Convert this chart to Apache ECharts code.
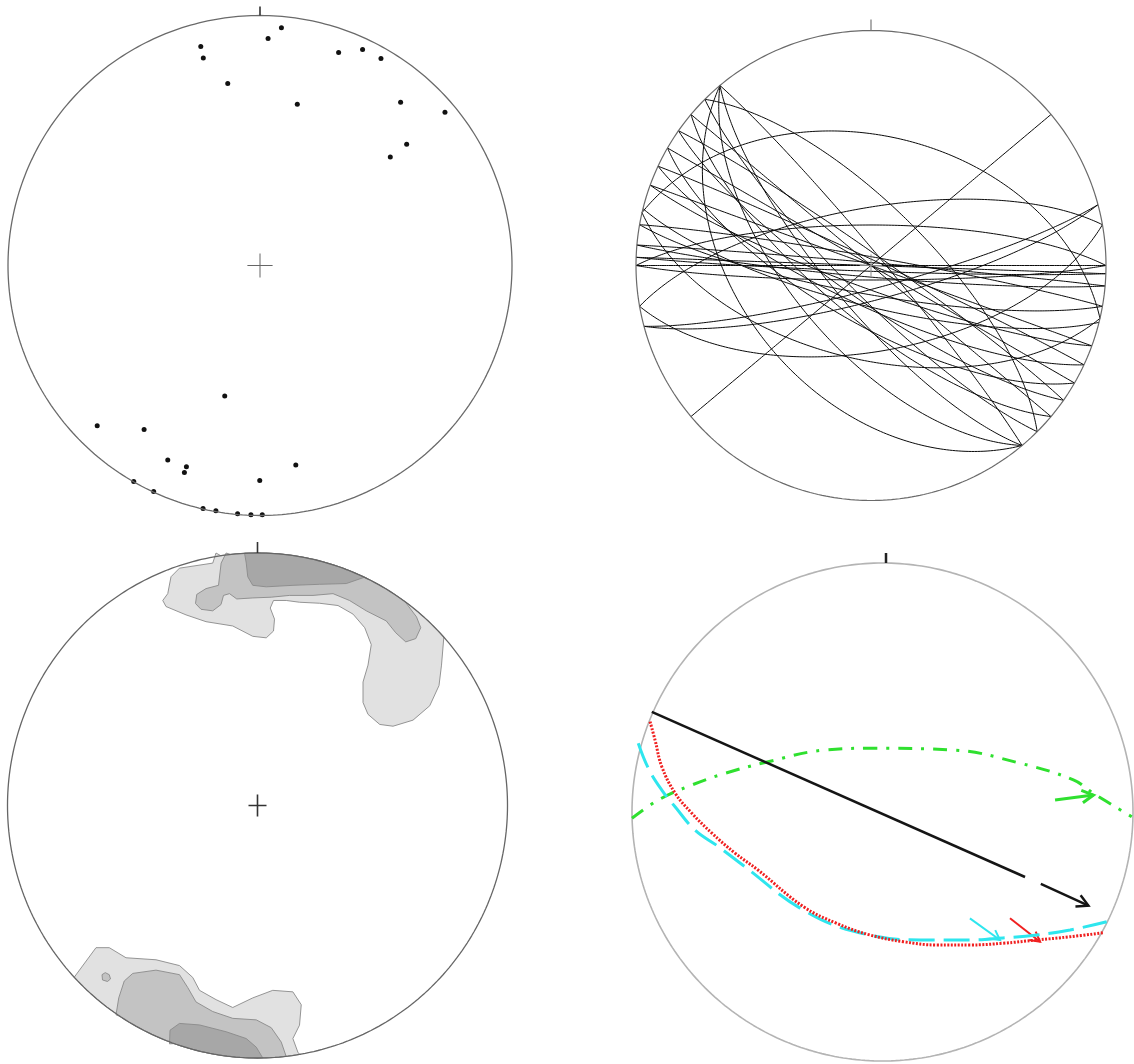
<!DOCTYPE html>
<html><head><meta charset="utf-8">
<script src="https://cdn.jsdelivr.net/npm/echarts/dist/echarts.min.js"></script>
<style>html,body{margin:0;padding:0;background:#fff}#c{width:1134px;height:1064px}</style>
</head><body><div id="c"></div>
<script>
// ---------- Panel 1: poles (normalized net coordinates) ----------
const poleX = [0.085,0.032,-0.235,-0.225,0.312,0.407,0.480,-0.128,0.148,0.558,0.734,0.582,0.517,
  -0.140,-0.646,-0.460,-0.366,-0.292,-0.300,0.142,-0.001,-0.501,-0.422,-0.226,-0.175,-0.089,-0.036,0.009];
const poleY = [0.951,0.908,0.876,0.830,0.852,0.864,0.828,0.728,0.645,0.653,0.613,0.485,0.434,
  -0.522,-0.641,-0.656,-0.778,-0.805,-0.828,-0.798,-0.860,-0.864,-0.904,-0.972,-0.981,-0.993,-0.997,-0.997];

// ---------- Panel 2: planes (strike RHR, dip) ----------
const gcStrike = [50,283,260,270,75,75,103,80,140,140,140,320,315,135,310,130,305,125,300,120,295,115,290,110,280,100,275,95,272,92,270,90,104];
const gcDip    = [90,44,70,76,78,82,57,60,44,62,75,86,70,80,90,72,86,78,90,70,88,76,90,82,87,80,89,86,90,88,90,85,76];

// ---------- Panel 3: density contours (normalized vertices; r>=1 = on primitive) ----------
const contourLight = [
  [[-0.166,1.0],[-0.179,0.960],[-0.312,0.940],[-0.346,0.906],[-0.359,0.839],[-0.379,0.812],[-0.366,0.788],
   [-0.286,0.755],[-0.206,0.728],[-0.099,0.711],[-0.019,0.670],[0.035,0.664],[0.064,0.691],[0.068,0.738],
   [0.051,0.782],[0.064,0.812],[0.115,0.812],[0.168,0.805],[0.248,0.801],[0.322,0.792],[0.382,0.758],
   [0.429,0.704],[0.455,0.637],[0.442,0.556],[0.422,0.489],[0.422,0.408],[0.442,0.361],[0.489,0.321],
   [0.542,0.314],[0.622,0.338],[0.689,0.395],[0.726,0.475],[0.736,0.556],[0.749,0.670]],
  [[0.175,-0.992],[0.1615,-0.977],[0.1415,-0.923],[0.168,-0.870],[0.175,-0.789],[0.1415,-0.738],[0.061,-0.732],
   [-0.019,-0.762],[-0.099,-0.800],[-0.1655,-0.769],[-0.232,-0.732],[-0.259,-0.681],[-0.312,-0.634],
   [-0.406,-0.611],[-0.526,-0.603],[-0.593,-0.563],[-0.646,-0.563],[-0.733,-0.68]]
];
const contourMedium = [
  [[-0.1255,1.0],[-0.1455,0.960],[-0.156,0.872],[-0.206,0.859],[-0.243,0.836],[-0.248,0.800],[-0.226,0.777],
   [-0.179,0.771],[-0.146,0.796],[-0.136,0.832],[-0.112,0.839],[-0.083,0.818],[-0.019,0.822],[0.055,0.825],
   [0.128,0.832],[0.222,0.832],[0.302,0.839],[0.368,0.812],[0.435,0.771],[0.515,0.731],[0.553,0.684],
   [0.593,0.648],[0.633,0.661],[0.653,0.704],[0.636,0.747],[0.582,0.796],[0.523,0.853]],
  [[-0.566,-0.829],[-0.555,-0.762],[-0.533,-0.695],[-0.499,-0.665],[-0.406,-0.652],[-0.312,-0.670],
   [-0.279,-0.721],[-0.246,-0.778],[-0.179,-0.816],[-0.099,-0.843],[-0.005,-0.849],[0.055,-0.880],
   [0.095,-0.937],[0.115,-0.997]],
  [[-0.622,-0.670],[-0.609,-0.662],[-0.593,-0.670],[-0.588,-0.687],[-0.600,-0.697],[-0.620,-0.691]]
];
const contourDark = [
  [[-0.052,1.0],[-0.045,0.960],[-0.039,0.906],[-0.019,0.872],[0.035,0.866],[0.142,0.872],[0.248,0.876],
   [0.355,0.879],[0.422,0.892],[0.442,0.903]],
  [[-0.352,-0.944],[-0.350,-0.890],[-0.312,-0.863],[-0.232,-0.869],[-0.1255,-0.896],[-0.045,-0.923],
   [-0.005,-0.957],[0.021,-1.0]]
];

// ---------- Panel 4: fault traces and slip arrows (normalized) ----------
const redTrace = [[-0.928,0.363],[-0.908,0.289],[-0.881,0.182],[-0.828,0.076],[-0.762,-0.004],[-0.682,-0.084],
  [-0.589,-0.165],[-0.497,-0.233],[-0.316,-0.380],[-0.183,-0.447],[-0.050,-0.494],[0.083,-0.521],[0.216,-0.534],
  [0.349,-0.534],[0.482,-0.527],[0.616,-0.514],[0.749,-0.501],[0.881,-0.485]];
const cyanTrace = [[-0.975,0.276],[-0.935,0.176],[-0.881,0.088],[-0.828,0.021],[-0.749,-0.072],[-0.655,-0.139],
  [-0.549,-0.220],[-0.329,-0.386],[-0.118,-0.478],[0.150,-0.514],[0.349,-0.514],[0.481,-0.506],[0.616,-0.494],
  [0.749,-0.474],[0.895,-0.441]];
const greenTrace = [[-1.0,-0.025],[-0.895,0.048],[-0.762,0.108],[-0.629,0.155],[-0.456,0.202],[-0.230,0.249],
  [-0.037,0.256],[0.283,0.249],[0.549,0.196],[0.762,0.129],[0.842,0.075],[0.995,-0.019]];
const blackTrace = [[-0.921,0.402],[0.569,-0.261]];
const blackArrow = [[0.632,-0.289],[0.822,-0.376]];
const greenArrow = [[0.689,0.048],[0.842,0.068]];
const cyanArrow  = [[0.349,-0.427],[0.469,-0.514]];
const redArrow   = [[0.509,-0.427],[0.629,-0.521]];

// ---------- projection helpers (equal-area, lower hemisphere) ----------
const D = Math.PI/180;
function eqArea(trend, plunge){
  const r = Math.SQRT2*Math.sin((90-plunge)/2*D);
  return [r*Math.sin(trend*D), r*Math.cos(trend*D)];
}
function greatCircle(strike, dip){
  const s=strike*D, d=dip*D, pts=[];
  const sv=[Math.sin(s),Math.cos(s),0];
  const dv=[Math.sin(s+Math.PI/2)*Math.cos(d),Math.cos(s+Math.PI/2)*Math.cos(d),Math.sin(d)];
  for(let p=0;p<=180;p+=1){
    const pr=p*D;
    const v=[0,1,2].map(i=>Math.cos(pr)*sv[i]+Math.sin(pr)*dv[i]);
    const pl=Math.asin(Math.max(-1,Math.min(1,v[2])))/D;
    const tr=Math.atan2(v[0],v[1])/D;
    pts.push(eqArea(tr,pl));
  }
  return pts;
}
function primitive(){ const pts=[]; for(let t=0;t<=360;t+=1) pts.push(eqArea(t,0)); return pts; }
function withRim(poly){
  const out=[]; const n=poly.length;
  const isRim=p=>Math.hypot(p[0],p[1])>0.985;
  for(let i=0;i<n;i++){
    const a=poly[i], b=poly[(i+1)%n];
    if(isRim(a)&&isRim(b)){
      let t0=Math.atan2(a[1],a[0]), t1=Math.atan2(b[1],b[0]);
      let dt=t1-t0; while(dt>Math.PI) dt-=2*Math.PI; while(dt<-Math.PI) dt+=2*Math.PI;
      const k=Math.max(2,Math.ceil(Math.abs(dt)/(1*D)));
      for(let j=0;j<k;j++){ const t=t0+dt*j/k; out.push([Math.cos(t),Math.sin(t)]); }
    } else out.push(a);
  }
  return out;
}

const grids=[
  {left:8,top:15.5,width:504,height:500},
  {left:636,top:30.5,width:470,height:470},
  {left:7.5,top:553,width:500,height:505},
  {left:632,top:563,width:501,height:498}
];
const xAxis=grids.map((g,i)=>({type:'value',gridIndex:i,min:-1,max:1,show:false}));
const yAxis=grids.map((g,i)=>({type:'value',gridIndex:i,min:-1,max:1,show:false}));

const series=[];
function lineS(gi,data,style,extra){
  series.push(Object.assign({type:'line',xAxisIndex:gi,yAxisIndex:gi,data:data,showSymbol:false,symbol:'none',
    clip:false,silent:true,animation:false,lineStyle:style},extra||{}));
}
function polyS(gi,polys,fill,stroke,lw){
  series.push({type:'custom',xAxisIndex:gi,yAxisIndex:gi,clip:false,silent:true,animation:false,
    data:polys.map(p=>p[0]),
    renderItem:function(params,api){
      const pts=withRim(polys[params.dataIndex]).map(p=>api.coord(p));
      return {type:'polygon',shape:{points:pts},style:{fill:fill,stroke:stroke,lineWidth:lw}};
    }});
}
function arrowS(gi,seg,color,lw,head){
  series.push({type:'custom',xAxisIndex:gi,yAxisIndex:gi,clip:false,silent:true,animation:false,
    data:[seg[0]],
    renderItem:function(params,api){
      const p0=api.coord(seg[0]), p1=api.coord(seg[1]);
      const a=Math.atan2(p1[1]-p0[1],p1[0]-p0[0]), w=0.5;
      const h1=[p1[0]-head*Math.cos(a-w),p1[1]-head*Math.sin(a-w)];
      const h2=[p1[0]-head*Math.cos(a+w),p1[1]-head*Math.sin(a+w)];
      return {type:'group',children:[
        {type:'line',shape:{x1:p0[0],y1:p0[1],x2:p1[0],y2:p1[1]},style:{stroke:color,lineWidth:lw}},
        {type:'polyline',shape:{points:[h1,p1,h2]},style:{stroke:color,fill:null,lineWidth:lw,lineJoin:'miter'}}
      ]};
    }});
}
function crossS(gi,hx,hy,color,lw){
  lineS(gi,[[-hx,0],[hx,0]],{color:color,width:lw});
  lineS(gi,[[0,-hy],[0,hy]],{color:color,width:lw});
}

// Panel 1
lineS(0,primitive(),{color:'#6a6a6a',width:1.3});
lineS(0,[[0,1],[0,1.036]],{color:'#333',width:1.6});
crossS(0,0.05,0.048,'#666',1);
series.push({type:'scatter',xAxisIndex:0,yAxisIndex:0,data:poleX.map((x,i)=>[x,poleY[i]]),symbolSize:5,
  itemStyle:{color:'#111',opacity:1},silent:true,animation:false,clip:false});

// Panel 2
gcStrike.forEach((s,i)=>lineS(1,greatCircle(s,gcDip[i]),{color:'#0a0a0a',width:1}));
lineS(1,primitive(),{color:'#6a6a6a',width:1.2});
lineS(1,[[0,1],[0,1.047]],{color:'#777',width:1.2});
crossS(1,0.047,0.047,'#888',1);

// Panel 3
polyS(2,contourLight,'#e1e1e1','#8a8a8a',0.9);
polyS(2,contourMedium,'#c3c3c3','#8a8a8a',0.9);
polyS(2,contourDark,'#a7a7a7','#8a8a8a',0.9);
lineS(2,primitive(),{color:'#666',width:1.3});
lineS(2,[[0,1],[0,1.044]],{color:'#333',width:1.6});
crossS(2,0.036,0.044,'#333',1.6);

// Panel 4
lineS(3,primitive(),{color:'#b4b4b4',width:1.6});
lineS(3,[[0.014,1],[0.014,1.04]],{color:'#222',width:2.5});
lineS(3,greenTrace,{color:'#2fe02f',width:3,type:[14,9,3,9]},{smooth:0.4});
lineS(3,cyanTrace,{color:'#2ee6ee',width:3,type:[26,9]},{smooth:0.4});
lineS(3,redTrace,{color:'#f02020',width:3,type:[2,1.5]},{smooth:0.4});
lineS(3,blackTrace,{color:'#151515',width:2.5});
arrowS(3,blackArrow,'#151515',2.5,13);
arrowS(3,greenArrow,'#2fe02f',3,13);
arrowS(3,cyanArrow,'#2ee6ee',2,11);
arrowS(3,redArrow,'#f02020',2,11);

const chart=echarts.init(document.getElementById('c'),null,{renderer:'canvas'});
chart.setOption({animation:false,backgroundColor:'#fff',grid:grids,xAxis:xAxis,yAxis:yAxis,series:series});
</script></body></html>
